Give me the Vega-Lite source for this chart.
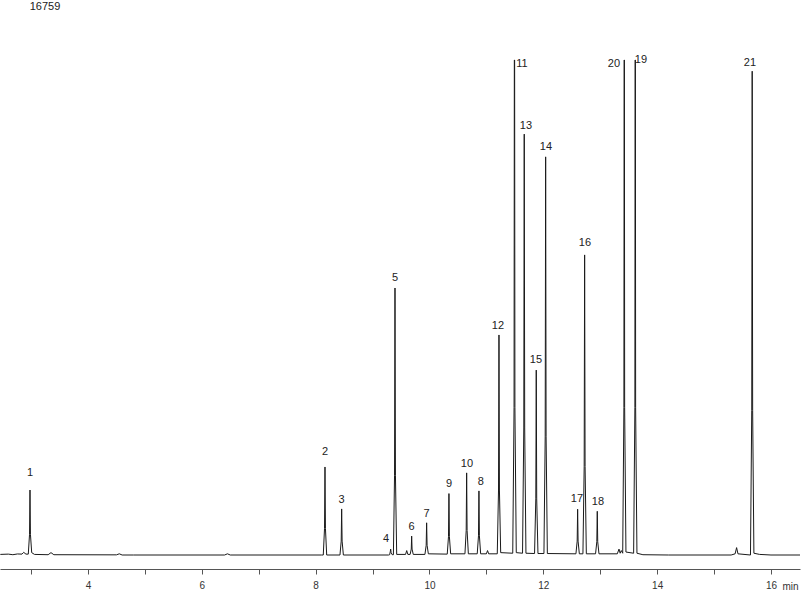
{
  "$schema": "https://vega.github.io/schema/vega-lite/v6.json",
  "width": 800,
  "height": 567,
  "padding": {"left": 0, "top": 0, "right": 7, "bottom": 0},
  "autosize": {"type": "pad"},
  "background": "white",
  "config": {"view": {"stroke": null}, "font": "Liberation Sans"},
  "datasets": {
    "trace": [
      {"t": 2.46, "v": 20}, {"t": 2.6, "v": 30}, {"t": 2.68, "v": 10}, {"t": 2.76, "v": 35}, {"t": 2.84, "v": 30}, {"t": 2.87, "v": 90}, {"t": 2.91, "v": 30},
      {"t": 2.951, "v": 30}, {"t": 2.973, "v": 700}, {"t": 2.981, "v": 2200}, {"t": 2.989, "v": 700}, {"t": 3.011, "v": 80},
      {"t": 3.06, "v": 20}, {"t": 3.3, "v": 10}, {"t": 3.35, "v": 80}, {"t": 3.4, "v": 10},
      {"t": 4.5, "v": 5}, {"t": 4.55, "v": 40}, {"t": 4.6, "v": 0}, {"t": 4.8, "v": 0}, {"t": 6.4, "v": 0}, {"t": 6.45, "v": 40}, {"t": 6.5, "v": 0},
      {"t": 8.1, "v": 0},
      {"t": 8.134, "v": 0}, {"t": 8.156, "v": 900}, {"t": 8.164, "v": 2980}, {"t": 8.172, "v": 900}, {"t": 8.194, "v": 0},
      {"t": 8.427, "v": 0}, {"t": 8.449, "v": 470}, {"t": 8.457, "v": 1560}, {"t": 8.465, "v": 470}, {"t": 8.487, "v": 0},
      {"t": 9.28, "v": 0}, {"t": 9.3, "v": 10}, {"t": 9.312, "v": 120}, {"t": 9.318, "v": 200}, {"t": 9.326, "v": 80}, {"t": 9.345, "v": 10},
      {"t": 9.366, "v": 10}, {"t": 9.386, "v": 2700}, {"t": 9.394, "v": 9040}, {"t": 9.402, "v": 2700}, {"t": 9.424, "v": 20},
      {"t": 9.58, "v": 20}, {"t": 9.6, "v": 150}, {"t": 9.62, "v": 20},
      {"t": 9.66, "v": 20}, {"t": 9.68, "v": 200}, {"t": 9.687, "v": 640}, {"t": 9.694, "v": 200}, {"t": 9.715, "v": 20},
      {"t": 9.92, "v": 20}, {"t": 9.942, "v": 330}, {"t": 9.95, "v": 1090}, {"t": 9.958, "v": 330}, {"t": 9.98, "v": 40},
      {"t": 10.312, "v": 30}, {"t": 10.334, "v": 620}, {"t": 10.342, "v": 2080}, {"t": 10.35, "v": 620}, {"t": 10.372, "v": 40},
      {"t": 10.623, "v": 40}, {"t": 10.645, "v": 830}, {"t": 10.653, "v": 2780}, {"t": 10.661, "v": 830}, {"t": 10.683, "v": 40},
      {"t": 10.839, "v": 40}, {"t": 10.861, "v": 650}, {"t": 10.869, "v": 2170}, {"t": 10.877, "v": 650}, {"t": 10.899, "v": 40},
      {"t": 11.0, "v": 40}, {"t": 11.02, "v": 150}, {"t": 11.04, "v": 40},
      {"t": 11.191, "v": 40}, {"t": 11.213, "v": 2200}, {"t": 11.221, "v": 7450}, {"t": 11.229, "v": 2200}, {"t": 11.251, "v": 80},
      {"t": 11.463, "v": 60}, {"t": 11.486, "v": 5000}, {"t": 11.491, "v": 16759}, {"t": 11.496, "v": 16759}, {"t": 11.501, "v": 5000}, {"t": 11.525, "v": 80},
      {"t": 11.635, "v": 60}, {"t": 11.657, "v": 4300}, {"t": 11.665, "v": 14250}, {"t": 11.673, "v": 4300}, {"t": 11.695, "v": 60},
      {"t": 11.846, "v": 50}, {"t": 11.868, "v": 1900}, {"t": 11.876, "v": 6260}, {"t": 11.884, "v": 1900}, {"t": 11.906, "v": 50},
      {"t": 12.011, "v": 50}, {"t": 12.033, "v": 4000}, {"t": 12.041, "v": 13480}, {"t": 12.049, "v": 4000}, {"t": 12.071, "v": 50},
      {"t": 12.573, "v": 40}, {"t": 12.595, "v": 470}, {"t": 12.603, "v": 1550}, {"t": 12.611, "v": 470}, {"t": 12.633, "v": 40},
      {"t": 12.696, "v": 40}, {"t": 12.718, "v": 3000}, {"t": 12.726, "v": 10160}, {"t": 12.734, "v": 3000}, {"t": 12.756, "v": 40},
      {"t": 12.918, "v": 40}, {"t": 12.94, "v": 450}, {"t": 12.948, "v": 1480}, {"t": 12.956, "v": 450}, {"t": 12.978, "v": 40},
      {"t": 13.3, "v": 40}, {"t": 13.33, "v": 200}, {"t": 13.35, "v": 60}, {"t": 13.37, "v": 150},
      {"t": 13.395, "v": 60}, {"t": 13.416, "v": 5000}, {"t": 13.42, "v": 16759}, {"t": 13.425, "v": 16759}, {"t": 13.429, "v": 5000}, {"t": 13.452, "v": 100},
      {"t": 13.587, "v": 60}, {"t": 13.609, "v": 5000}, {"t": 13.613, "v": 16759}, {"t": 13.618, "v": 16759}, {"t": 13.622, "v": 5000}, {"t": 13.645, "v": 60},
      {"t": 13.75, "v": 10}, {"t": 14.2, "v": 0}, {"t": 15.3, "v": 0}, {"t": 15.37, "v": 40}, {"t": 15.396, "v": 250}, {"t": 15.42, "v": 40},
      {"t": 15.64, "v": 0}, {"t": 15.662, "v": 4900}, {"t": 15.67, "v": 16380}, {"t": 15.678, "v": 4900}, {"t": 15.7, "v": 60},
      {"t": 15.8, "v": 20}, {"t": 16.0, "v": 0}, {"t": 16.51, "v": 0}
    ],
    "labels": [
      {"t": 2.981, "v": 2777, "label": "1"},
      {"t": 8.164, "v": 3488, "label": "2"},
      {"t": 8.457, "v": 1862, "label": "3"},
      {"t": 9.235, "v": 542, "label": "4"},
      {"t": 9.394, "v": 9379, "label": "5"},
      {"t": 9.687, "v": 948, "label": "6"},
      {"t": 9.95, "v": 1388, "label": "7"},
      {"t": 10.342, "v": 2404, "label": "9"},
      {"t": 10.658, "v": 3081, "label": "10"},
      {"t": 10.904, "v": 2472, "label": "8"},
      {"t": 11.203, "v": 7754, "label": "12"},
      {"t": 11.625, "v": 16625, "label": "11"},
      {"t": 11.695, "v": 14526, "label": "13"},
      {"t": 11.871, "v": 6603, "label": "15"},
      {"t": 12.046, "v": 13815, "label": "14"},
      {"t": 12.591, "v": 1896, "label": "17"},
      {"t": 12.732, "v": 10564, "label": "16"},
      {"t": 12.96, "v": 1795, "label": "18"},
      {"t": 13.241, "v": 16625, "label": "20"},
      {"t": 13.715, "v": 16761, "label": "19"},
      {"t": 15.63, "v": 16659, "label": "21"},
      {"t": 3.245, "v": 18555, "label": "16759"}
    ]
  },
  "layer": [
    {
      "data": {"name": "trace"},
      "mark": {"type": "line", "color": "#1a1a1a", "strokeWidth": 1, "clip": true},
      "encoding": {
        "x": {
          "field": "t", "type": "quantitative",
          "scale": {"domain": [2.454, 16.51], "nice": false, "zero": false},
          "axis": {
            "values": [3, 4, 5, 6, 7, 8, 9, 10, 11, 12, 13, 14, 15, 16],
            "labelExpr": "datum.value % 2 == 0 ? format(datum.value, 'd') : ''",
            "grid": false, "tickSize": 5, "domainColor": "#555", "tickColor": "#555",
            "labelColor": "#333", "labelFontSize": 10, "labelPadding": 6, "labelFont": "Liberation Sans",
            "title": "min", "titleX": 798, "titleY": 17, "titleAlign": "right", "titleBaseline": "middle",
            "titleFontWeight": "normal", "titleFontSize": 10, "titleColor": "#333", "titleFont": "Liberation Sans"
          }
        },
        "y": {
          "field": "v", "type": "quantitative",
          "scale": {"domain": [-474, 18723], "nice": false, "zero": false},
          "axis": null
        }
      }
    },
    {
      "data": {"name": "labels"},
      "mark": {"type": "text", "fontSize": 11, "color": "#222", "baseline": "middle", "align": "center", "font": "Liberation Sans"},
      "encoding": {
        "x": {"field": "t", "type": "quantitative"},
        "y": {"field": "v", "type": "quantitative"},
        "text": {"field": "label"}
      }
    }
  ]
}
